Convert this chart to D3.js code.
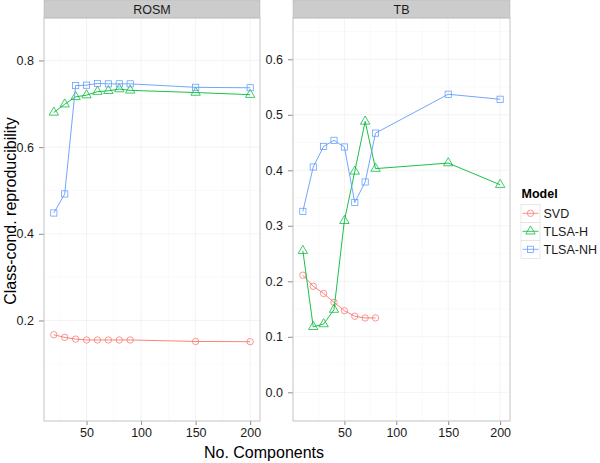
<!DOCTYPE html>
<html><head><meta charset="utf-8">
<script src="https://cdn.jsdelivr.net/npm/d3@7"></script>
<style>body{margin:0;background:#fff}svg{display:block}text{font-family:"Liberation Sans",Arial,sans-serif}</style>
</head><body>
<script>
const seriesNames = ["SVD","TLSA-H","TLSA-NH"];
const colors = ["#F8766D","#00BA38","#619CFF"];
const panelNames = ["ROSM","TB"];
const xTicks = [50,100,150,200];
const rosmX = [20,30,40,50,60,70,80,90,150,200];
const rosmSVD = [0.167,0.161,0.157,0.155,0.155,0.155,0.155,0.155,0.1515,0.151];
const rosmTLSAH = [0.68,0.699,0.716,0.72,0.728,0.73,0.734,0.731,0.726,0.721];
const rosmTLSANH = [0.448,0.492,0.742,0.743,0.747,0.746,0.746,0.746,0.738,0.737];
const tbX = [10,20,30,40,50,60,70,80,150,200];
const tbSVD = [0.211,0.191,0.178,0.162,0.147,0.137,0.134,0.134];
const tbTLSAH = [0.255,0.118,0.123,0.149,0.309,0.398,0.488,0.403,0.413,0.374];
const tbTLSANH = [0.326,0.406,0.443,0.454,0.442,0.342,0.379,0.467,0.537,0.528];
const rosmYTicks = [0.2,0.4,0.6,0.8];
const tbYTicks = [0.0,0.1,0.2,0.3,0.4,0.5,0.6];

const W=600,H=463;
const svg=d3.select("body").append("svg").attr("width",W).attr("height",H);
const pTop=18,pBottom=421;
const panels=[
 {name:panelNames[0],x0:44,x1:260,xd:[11,209],yd:[-0.032,0.898],yt:rosmYTicks,
  series:[rosmSVD,rosmTLSAH,rosmTLSANH],xs:rosmX},
 {name:panelNames[1],x0:293,x1:510,xd:[0.5,209.5],yd:[-0.0517,0.6744],yt:tbYTicks,
  series:[tbSVD,tbTLSAH,tbTLSANH],xs:tbX}
];
const fmt=d3.format(".1f");
function marker(g,type,x,y,c){
  if(type===0) g.append("circle").attr("cx",x).attr("cy",y).attr("r",3.2).attr("fill","none").attr("stroke",c).attr("stroke-width",0.75);
  else if(type===1) g.append("path").attr("d",d3.symbol(d3.symbolTriangle,38)()).attr("transform",`translate(${x},${y})`).attr("fill","none").attr("stroke",c).attr("stroke-width",0.75);
  else g.append("rect").attr("x",x-3.1).attr("y",y-3.1).attr("width",6.2).attr("height",6.2).attr("fill","none").attr("stroke",c).attr("stroke-width",0.75);
}
panels.forEach(p=>{
  const x=d3.scaleLinear().domain(p.xd).range([p.x0,p.x1]);
  const y=d3.scaleLinear().domain(p.yd).range([pBottom,pTop]);
  const g=svg.append("g");
  g.append("rect").attr("x",p.x0).attr("y",0).attr("width",p.x1-p.x0).attr("height",pTop).attr("fill","#cccccc").attr("stroke","#b3b3b3").attr("stroke-width",0.5);
  g.append("text").attr("x",(p.x0+p.x1)/2).attr("y",pTop/2+4.5).attr("text-anchor","middle").attr("font-size",12.5).attr("fill","#1a1a1a").text(p.name);
  const yt=p.yt, step=yt[1]-yt[0];
  const minorY=[];
  for(let v=yt[0]-step/2; v<=p.yd[1]; v+=step) if(v>=p.yd[0]) minorY.push(v);
  const minorX=[25,75,125,175];
  g.selectAll(".mny").data(minorY).enter().append("line").attr("x1",p.x0).attr("x2",p.x1).attr("y1",d=>y(d)).attr("y2",d=>y(d)).attr("stroke","#f7f7f7").attr("stroke-width",0.6);
  g.selectAll(".mnx").data(minorX).enter().append("line").attr("y1",pTop).attr("y2",pBottom).attr("x1",d=>x(d)).attr("x2",d=>x(d)).attr("stroke","#f7f7f7").attr("stroke-width",0.6);
  g.selectAll(".mjy").data(yt).enter().append("line").attr("x1",p.x0).attr("x2",p.x1).attr("y1",d=>y(d)).attr("y2",d=>y(d)).attr("stroke","#ebebeb").attr("stroke-width",0.6);
  g.selectAll(".mjx").data(xTicks).enter().append("line").attr("y1",pTop).attr("y2",pBottom).attr("x1",d=>x(d)).attr("x2",d=>x(d)).attr("stroke","#ebebeb").attr("stroke-width",0.6);
  const ax=g.append("g").attr("transform",`translate(0,${pBottom})`).call(d3.axisBottom(x).tickValues(xTicks).tickSize(4).tickPadding(3));
  const ay=g.append("g").attr("transform",`translate(${p.x0},0)`).call(d3.axisLeft(y).tickValues(yt).tickFormat(fmt).tickSize(5).tickPadding(5));
  [ax,ay].forEach(a=>{a.select(".domain").remove();a.selectAll("line").attr("stroke","#8c8c8c");a.selectAll("text").attr("font-size",12.5).attr("fill","#1a1a1a").attr("font-family","Liberation Sans, Arial, sans-serif");});
  p.series.forEach((vals,si)=>{
    const pts=vals.map((v,i)=>[p.xs[i],v]);
    g.append("path").attr("d",d3.line().x(d=>x(d[0])).y(d=>y(d[1]))(pts)).attr("fill","none").attr("stroke",colors[si]).attr("stroke-width",0.9);
    pts.forEach(d=>marker(g,si,x(d[0]),y(d[1]),colors[si]));
  });
  g.append("rect").attr("x",p.x0).attr("y",pTop).attr("width",p.x1-p.x0).attr("height",pBottom-pTop).attr("fill","none").attr("stroke","#c4c4c4").attr("stroke-width",1);
});
svg.append("text").attr("x",264).attr("y",458).attr("text-anchor","middle").attr("font-size",16).attr("fill","#000").text("No. Components");
svg.append("text").attr("transform","translate(15.5,211) rotate(-90)").attr("text-anchor","middle").attr("font-size",16).attr("fill","#000").text("Class-cond. reproducibility");
const lg=svg.append("g");
lg.append("text").attr("x",521.5).attr("y",198).attr("font-size",12.5).attr("font-weight","bold").text("Model");
seriesNames.forEach((s,i)=>{
  const cy=213.3+i*18;
  lg.append("rect").attr("x",521).attr("y",cy-9).attr("width",19).attr("height",18).attr("fill","#fff").attr("stroke","#d9d9d9").attr("stroke-width",0.6);
  lg.append("line").attr("x1",522.5).attr("x2",538.5).attr("y1",cy).attr("y2",cy).attr("stroke",colors[i]).attr("stroke-width",0.8);
  marker(lg,i,530.5,cy,colors[i]);
  lg.append("text").attr("x",543.5).attr("y",cy+4.5).attr("font-size",12.5).attr("fill","#1a1a1a").text(s);
});
</script>
</body></html>
